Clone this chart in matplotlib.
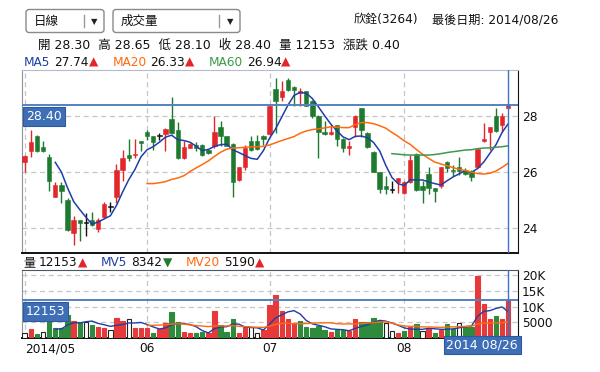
import numpy as np
import matplotlib.pyplot as plt
from matplotlib.patches import FancyBboxPatch

plt.rcParams['font.family'] = ['DejaVu Sans', 'Noto Sans CJK TC']

# 欣銓(3264) daily candles, 2014/05 .. 2014/08/26
opens = [26.37, 26.77, 27.31, 26.90, 26.55, 25.12, 25.56, 25.02, 23.83, 24.31,
         24.19, 24.29, 23.99, 24.39, 24.75, 25.11, 26.07, 26.63, 26.62, 27.11,
         27.43, 27.31, 27.31, 27.39, 27.92, 27.52, 26.51, 26.89, 26.99, 26.99,
         26.79, 26.93, 27.61, 27.31, 27.01, 25.74, 26.18, 27.11, 27.13, 27.31,
         27.37, 28.99, 28.71, 29.29, 29.05, 28.83, 28.92, 28.56, 28.00, 27.44,
         27.39, 27.70, 27.20, 26.87, 27.64, 28.30, 27.40, 26.73, 26.01, 25.50,
         25.38, 25.65, 25.26, 25.65, 26.65, 25.50, 25.94, 25.46, 25.50, 26.39,
         26.10, 26.18, 26.04, 26.04, 26.18, 27.11, 27.44, 28.00, 27.70, 28.30]
highs = [26.63, 27.52, 27.35, 27.13, 26.65, 25.65, 25.65, 25.08, 24.43, 24.31,
         24.55, 24.58, 24.37, 24.96, 24.96, 26.30, 26.81, 27.19, 27.20, 27.11,
         27.52, 27.31, 27.40, 27.58, 28.71, 27.79, 27.11, 27.05, 27.08, 27.02,
         26.85, 28.00, 27.82, 27.31, 27.05, 26.19, 26.99, 27.31, 27.35, 27.35,
         28.44, 29.39, 29.25, 29.39, 29.08, 29.00, 28.92, 28.60, 28.06, 27.82,
         27.70, 27.70, 27.23, 27.11, 28.06, 28.30, 27.46, 26.77, 26.01, 25.86,
         25.68, 25.80, 25.70, 26.63, 26.68, 25.70, 26.18, 25.46, 26.20, 26.42,
         26.25, 26.54, 26.15, 26.10, 26.85, 27.76, 27.61, 28.30, 28.12, 28.43]
lows = [26.00, 26.54, 26.73, 26.73, 25.32, 25.11, 24.90, 23.92, 23.42, 23.54,
        23.71, 24.07, 23.87, 24.37, 24.58, 24.90, 25.70, 26.42, 26.51, 26.77,
        27.17, 26.81, 27.17, 26.77, 27.37, 26.49, 26.49, 26.87, 26.75, 26.57,
        26.67, 26.89, 26.93, 26.93, 25.11, 25.70, 26.10, 26.77, 26.81, 26.99,
        27.35, 27.40, 28.56, 28.90, 28.36, 28.39, 28.36, 27.96, 26.51, 27.35,
        27.35, 26.93, 26.73, 26.63, 27.25, 27.25, 26.89, 26.01, 25.26, 25.23,
        25.26, 25.26, 25.23, 25.61, 25.35, 24.90, 25.23, 24.94, 25.46, 26.01,
        25.86, 25.92, 25.90, 25.70, 26.15, 27.08, 26.81, 27.46, 27.44, 28.28]
closes = [26.57, 27.07, 26.75, 26.75, 25.68, 25.56, 25.32, 23.95, 24.31, 24.21,
          24.19, 24.11, 24.31, 24.87, 24.75, 26.07, 26.51, 26.51, 26.67, 27.05,
          27.31, 27.07, 27.31, 27.56, 27.40, 26.51, 26.90, 27.01, 26.87, 26.63,
          26.71, 27.43, 27.31, 26.96, 25.65, 26.19, 26.87, 26.81, 26.85, 27.20,
          28.39, 28.56, 28.92, 28.95, 28.95, 28.92, 28.39, 28.00, 27.44, 27.39,
          27.44, 27.20, 26.87, 26.93, 28.00, 27.52, 26.90, 26.01, 25.40, 25.40,
          25.38, 25.80, 25.65, 26.45, 25.38, 25.38, 25.46, 25.35, 26.18, 26.15,
          26.04, 26.04, 25.94, 25.82, 26.85, 27.20, 27.61, 27.49, 28.00, 28.40]
volumes = [1460, 2760, 1140, 1790, 5460, 3080, 3080, 7410, 5460, 5030,
           5030, 4170, 3620, 3300, 2540, 6550, 5570, 6110, 3300, 3300,
           3300, 1680, 2870, 4920, 8170, 5250, 1790, 1460, 1460, 2000,
           1460, 8490, 4170, 2000, 6110, 1460, 3620, 3620, 1460, 2700,
           10660, 13690, 8710, 6000, 4710, 5300, 3400, 3150, 3800, 2400,
           1850, 2600, 2600, 2200, 6000, 5100, 5100, 6550, 5400, 4820,
           2110, 1570, 2330, 3510, 4380, 2110, 3190, 1570, 2650, 4380,
           2870, 4820, 3510, 3510, 19970, 10770, 6000, 6980, 6000, 12153]
# r = up, g = down, h = unchanged (hollow bar)
vol_dir = list("hrghggggrg" "hgrrhrrhrr" "rgrrggrrgg" "rrgggrrhhr"
               "rrrrrggggg" "rggrrggggh" "hrgrghrgrg" "ghggrrrgrr")

ma5 = [26.36, 26.01, 25.45, 24.96, 24.67, 24.40, 24.15, 24.23, 24.34, 24.45,
       24.82, 25.30, 25.74, 26.10, 26.56, 26.81, 26.92, 27.08, 27.26, 27.33,
       27.17, 27.14, 27.08, 26.94, 26.78, 26.82, 26.93, 26.99, 27.01, 26.81,
       26.71, 26.60, 26.50, 26.47, 26.78, 27.22, 27.56, 27.98, 28.40, 28.75,
       28.86, 28.83, 28.64, 28.34, 28.03, 27.73, 27.49, 27.27, 27.17, 27.29,
       27.30, 27.24, 27.07, 26.77, 26.25, 25.82, 25.60, 25.53, 25.74, 25.73,
       25.73, 25.66, 25.60, 25.55, 25.70, 25.84, 25.95, 26.07, 26.00, 26.14,
       26.37, 26.68, 26.99, 27.43, 27.74]
ma20 = [25.60, 25.60, 25.63, 25.67, 25.75, 25.80, 25.88, 26.03, 26.16, 26.28,
        26.41, 26.57, 26.72, 26.83, 26.87, 26.88, 26.90, 26.91, 26.92, 26.93,
        26.98, 27.06, 27.14, 27.21, 27.28, 27.40, 27.48, 27.53, 27.56, 27.59,
        27.63, 27.62, 27.60, 27.60, 27.71, 27.78, 27.78, 27.74, 27.67, 27.58,
        27.43, 27.29, 27.13, 27.00, 26.82, 26.65, 26.50, 26.37, 26.30, 26.24,
        26.17, 26.11, 26.07, 26.01, 25.96, 25.94, 25.97, 26.05, 26.18, 26.33]
ma60 = [26.67, 26.65, 26.63, 26.62, 26.62, 26.62, 26.62, 26.64, 26.67, 26.71,
        26.74, 26.77, 26.80, 26.81, 26.85, 26.87, 26.88, 26.90, 26.92, 26.95]
mv5 = [2846, 2910, 4164, 4898, 4812, 5202, 5420, 4662, 4230, 3732,
       4036, 4316, 4814, 4814, 4966, 4316, 3538, 2890, 3214, 4188,
       4578, 4600, 4318, 3626, 2392, 1634, 2974, 3516, 3624, 4446,
       4446, 3472, 3362, 3254, 2572, 4412, 6426, 7444, 8352, 8754,
       7682, 5624, 4512, 4072, 3610, 2920, 2760, 2650, 2330, 3050,
       3700, 4200, 4990, 5630, 5394, 4796, 4090, 3246, 2868, 2780,
       2780, 3104, 2952, 2780, 2780, 2932, 3258, 3646, 3818, 6936,
       8516, 8752, 9446, 9944, 8381]
mv20 = [4100, 4046, 4133, 4289, 4425, 4533, 4469, 4171, 3971, 3820,
        3641, 3857, 3885, 3820, 3998, 3744, 3646, 3522, 3430, 3400,
        3768, 4368, 4660, 4714, 4541, 4544, 4624, 4709, 4826, 4846,
        4865, 4571, 4492, 4502, 4497, 4679, 4753, 4899, 5096, 5202,
        4775, 4169, 3850, 3725, 3709, 3549, 3539, 3460, 3402, 3501,
        3552, 3663, 3709, 3774, 4473, 4756, 4801, 4823, 4853, 5219]

month_pos = [1, 21, 41, 63]
month_labels = ['2014/05', '06', '07', '08']
price_ticks = [24, 26, 28]
vol_ticks = [5000, 10000, 15000, 20000]
vol_tick_labels = ['5000', '10K', '15K', '20K']
last_date = '2014 08/26'

RED = '#e3262b'
GREEN = '#1d7a2e'
VRED = '#e63a3a'
VGREEN = '#2e8a3c'
BLUE = '#1f3fa6'
ORANGE = '#ff6a10'
MGREEN = '#3b9a4c'
CURSOR = '#3a73c4'
LASTLINE = '#5581c2'
BOXBLUE = '#3e6fb6'
GRID = '#c6c6c6'

W, H = 600, 372
fig = plt.figure(figsize=(W / 100, H / 100), dpi=100)


def px_box(l, t, r, b):
    return [l / W, 1 - b / H, (r - l) / W, (b - t) / H]


# overlay in pixel coordinates for the header widgets / texts
ov = fig.add_axes([0, 0, 1, 1])
ov.set_xlim(0, W)
ov.set_ylim(H, 0)
ov.axis('off')

ax = fig.add_axes(px_box(22, 70, 518, 253))
axv = fig.add_axes(px_box(22, 270, 518, 338))

x = np.arange(1, len(closes) + 1)
o = np.array(opens)
c = np.array(closes)
ccol = np.where(c > o, RED, np.where(c < o, GREEN, '#111111'))

# candles
ax.vlines(x, lows, highs, colors=ccol, lw=1, zorder=2)
body = np.maximum(np.abs(c - o), 0.04)
ax.bar(x, body, bottom=np.minimum(o, c), width=0.72, color=ccol,
       edgecolor=ccol, lw=0.4, zorder=3)

n = len(closes)
ax.plot(x[n - len(ma5):], ma5, color=BLUE, lw=1.1, zorder=4)
ax.plot(x[n - len(ma20):], ma20, color=ORANGE, lw=1.1, zorder=4)
ax.plot(x[n - len(ma60):], ma60, color=MGREEN, lw=1.1, zorder=4)

ax.axhline(closes[-1], color=LASTLINE, lw=1.4, zorder=5)
ax.axvline(x[-1], color=CURSOR, lw=1, zorder=6)
ax.annotate(f'{closes[-1]:.2f}', xy=(0, closes[-1]),
            xycoords=('axes fraction', 'data'), xytext=(3, -3.5),
            textcoords='offset points', ha='left', va='top', color='white',
            fontsize=9, zorder=7,
            bbox=dict(boxstyle='square,pad=0.22', fc=BOXBLUE, ec='#2d5a9c', lw=0.8))

ax.set_xlim(0.56, 81.6)
ax.set_ylim(23.12, 29.66)
ax.set_xticks(month_pos)
ax.set_xticklabels([])
ax.set_yticks(price_ticks)

# volume
vface = {'r': VRED, 'g': VGREEN, 'h': 'white'}
vedge = {'r': VRED, 'g': VGREEN, 'h': '#222222'}
axv.bar(x, volumes, width=0.72, color=[vface[d] for d in vol_dir],
        edgecolor=[vedge[d] for d in vol_dir], lw=0.8, zorder=3)
axv.plot(x[n - len(mv5):], mv5, color=BLUE, lw=1.0, zorder=4)
axv.plot(x[n - len(mv20):], mv20, color=ORANGE, lw=1.0, zorder=4)
axv.axhline(volumes[-1], color=LASTLINE, lw=1.4, zorder=5)
axv.axvline(x[-1], color=CURSOR, lw=1, zorder=6)
axv.annotate(f'{volumes[-1]}', xy=(0, volumes[-1]),
             xycoords=('axes fraction', 'data'), xytext=(3, -3.5),
             textcoords='offset points', ha='left', va='top', color='white',
             fontsize=9, zorder=7,
             bbox=dict(boxstyle='square,pad=0.22', fc=BOXBLUE, ec='#2d5a9c', lw=0.8))
axv.text(1.0, -0.01, last_date, transform=axv.transAxes, ha='right', va='top',
         color='white', fontsize=9, zorder=7,
         bbox=dict(boxstyle='square,pad=0.2', fc=BOXBLUE, ec='#2d5a9c', lw=0.8))

axv.set_xlim(0.56, 81.6)
axv.set_ylim(0, 21750)
axv.set_xticks(month_pos)
axv.set_xticklabels(month_labels)
axv.get_xticklabels()[0].set_ha('left')
axv.set_yticks(vol_ticks)
axv.set_yticklabels(vol_tick_labels)

for a in (ax, axv):
    a.yaxis.tick_right()
    a.tick_params(axis='both', length=0, labelsize=8.7, colors='#111111')
    a.tick_params(axis='y', pad=3)
    a.tick_params(axis='x', pad=3)
    a.grid(True, color=GRID, ls=(0, (4, 3)), lw=0.9, zorder=0)
    a.set_axisbelow(True)
    a.spines['left'].set_color('#8d939c')
    a.spines['right'].set_color('#111111')
    a.spines['bottom'].set_color('#111111')
    a.spines['bottom'].set_linewidth(1.4)
ax.spines['top'].set_color('#b4bccb')
axv.spines['top'].set_color('#4d5866')

# header widgets
for l, r, div, label in [(26, 104, 84, '日線'), (113, 240, 219, '成交量')]:
    ov.add_patch(FancyBboxPatch((l, 9.5), r - l, 23, boxstyle='round,pad=0,rounding_size=3',
                                fc='white', ec='#8a8a8a', lw=1))
    ov.plot([div, div], [15, 27], color='#9a9a9a', lw=1)
    ov.text(l + 8, 21, label, fontsize=9, va='center', ha='left', color='#111111')
    ov.text((div + r) / 2 + 0.5, 21.5, '▼', fontsize=6, va='center', ha='center',
            color='#222222')

ov.text(354, 20, '欣銓(3264)', fontsize=8.7, va='center', ha='left', color='#111111')
ov.text(432, 20, '最後日期: 2014/08/26', fontsize=8.7, va='center', ha='left',
        color='#111111')
ov.text(38, 45, '開 28.30  高 28.65  低 28.10  收 28.40  量 12153  漲跌 0.40',
        fontsize=9, va='center', ha='left', color='#111111')

renderer = fig.canvas.get_renderer()


def text_run(x0, y, parts, size=8.7):
    for s, col, gap in parts:
        t = ov.text(x0, y, s, color=col, fontsize=size, va='center', ha='left')
        x0 += t.get_window_extent(renderer=renderer).width + gap


text_run(24, 62, [('MA5', BLUE, 4), ('27.74', '#111111', 0), ('▲', RED, 14),
                  ('MA20', ORANGE, 4), ('26.33', '#111111', 0), ('▲', RED, 14),
                  ('MA60', MGREEN, 4), ('26.94', '#111111', 0), ('▲', RED, 0)])
text_run(23, 263, [('量', '#111111', 4), ('12153', '#111111', 0), ('▲', RED, 14),
                   ('MV5', BLUE, 4), ('8342', '#111111', 0), ('▼', GREEN, 14),
                   ('MV20', ORANGE, 4), ('5190', '#111111', 0), ('▲', RED, 0)])

fig.savefig('out.png', dpi=100)
